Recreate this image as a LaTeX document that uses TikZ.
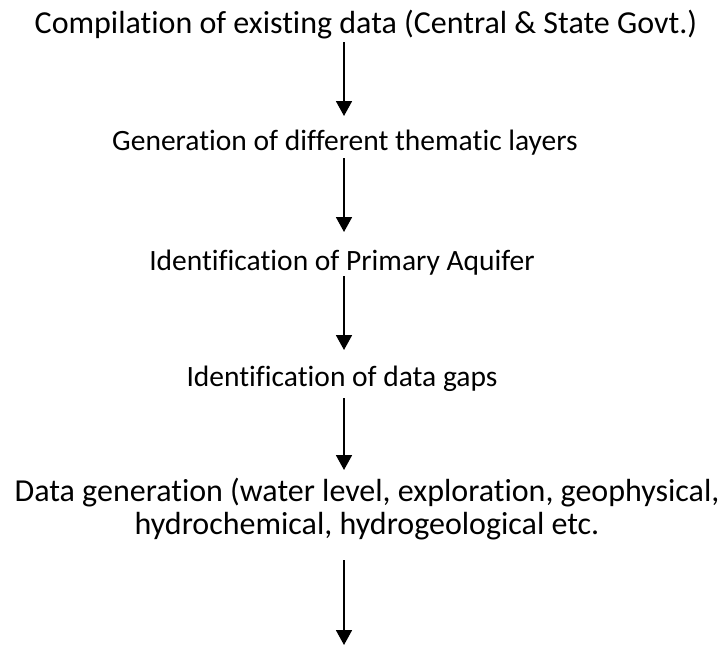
\documentclass[tikz,border=0pt]{standalone}
\usepackage{fontspec}
\setmainfont{Carlito}[Ligatures=NoCommon]
\usetikzlibrary{arrows.meta}

\tikzset{
  stage/.style={inner sep=0pt, anchor=base, align=center,
    font=\fontsize{32pt}{33pt}\selectfont},
  small stage/.style={stage, font=\fontsize{29.5pt}{33pt}\selectfont},
  flow/.style={line width=1.8pt,
    -{Triangle[width=16pt,length=15pt]}}
}

\begin{document}
\begin{tikzpicture}[x=1pt,y=1pt]
  \useasboundingbox (0,0) rectangle (725,-645);

  % vertical axis shared by all arrows
  \coordinate (spine) at (344,0);

  \node[stage] (s1) at (366,-33)  {Compilation of existing data (Central \& State Govt.)};
  \node[small stage] (s2) at (345,-150) {Generation of different thematic layers};
  \node[small stage] (s3) at (342,-270) {Identification of Primary Aquifer};
  \node[small stage] (s4) at (342,-386) {Identification of data gaps};
  % base anchor of a two-line node sits on its last line
  \node[stage] (s5) at (367,-534) {Data generation (water level, exploration, geophysical,\\
                                    hydrochemical, hydrogeological etc.};

  \coordinate (tail) at (344,-645);

  \draw[flow] ([yshift=-9pt]s1.base -| spine) -- ([yshift=34pt]s2.base -| spine);
  \draw[flow] ([yshift=-8pt]s2.base -| spine) -- ([yshift=38pt]s3.base -| spine);
  \draw[flow] ([yshift=-6pt]s3.base -| spine) -- ([yshift=36pt]s4.base -| spine);
  \draw[flow] ([yshift=-12pt]s4.base -| spine) -- ([yshift=64pt]s5.base -| spine);
  \draw[flow] ([yshift=-26pt]s5.base -| spine) -- (tail);
\end{tikzpicture}
\end{document}
